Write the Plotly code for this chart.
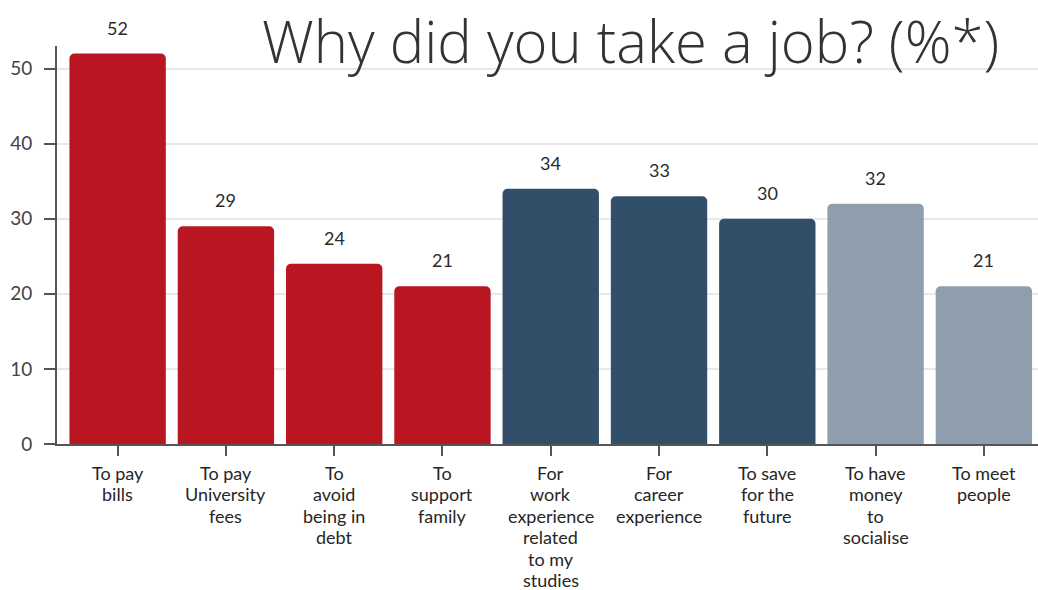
import plotly.graph_objects as go

# Survey answers: reasons students gave for taking a job
categories = [
    "To pay<br>bills",
    "To pay<br>University<br>fees",
    "To<br>avoid<br>being in<br>debt",
    "To<br>support<br>family",
    "For<br>work<br>experience<br>related<br>to my<br>studies",
    "For<br>career<br>experience",
    "To save<br>for the<br>future",
    "To have<br>money<br>to<br>socialise",
    "To meet<br>people",
]
values = [52, 29, 24, 21, 34, 33, 30, 32, 21]
bar_colors = [
    "#BA1622", "#BA1622", "#BA1622", "#BA1622",
    "#324F69", "#324F69", "#324F69",
    "#8E9EAD", "#8E9EAD",
]
y_ticks = [0, 10, 20, 30, 40, 50]

positions = list(range(len(categories)))

fig = go.Figure()
fig.add_trace(go.Bar(
    x=positions,
    y=values,
    marker=dict(color=bar_colors, line=dict(width=0), cornerradius=5),
    width=0.89,
    hoverinfo="skip",
))

# value labels floating above each bar
for xi, v in zip(positions, values):
    fig.add_annotation(
        x=xi, y=v, text=str(v), showarrow=False,
        yanchor="bottom", yshift=13,
        font=dict(family="Lato", size=18, color="#2b2b2b"),
    )

# category labels, one line at a time for tight line spacing
LINE_STEP = 21.4
for xi, label in zip(positions, categories):
    for i, line in enumerate(label.split("<br>")):
        fig.add_annotation(
            x=xi, y=0, text=line, showarrow=False,
            yanchor="middle", yshift=-(29 + LINE_STEP * i),
            borderpad=0,
            font=dict(family="Lato", size=18, color="#262626"),
        )

fig.add_annotation(
    xref="paper", yref="paper", x=0.962, y=1.0,
    xanchor="right", yanchor="middle", yshift=6,
    text="Why did you take a job? (%*)", showarrow=False,
    font=dict(family="Open Sans", size=58, color="#333333", weight=300),
)

fig.update_layout(
    width=1038, height=590,
    margin=dict(l=57, r=0, t=46, b=146),
    paper_bgcolor="white", plot_bgcolor="white",
    showlegend=False,
    xaxis=dict(
        range=[-0.56, 8.5],
        tickvals=positions,
        showticklabels=False,
        ticks="outside", ticklen=10, tickwidth=2, tickcolor="#555555",
        showline=True, linecolor="#555555", linewidth=2,
        showgrid=False, zeroline=False,
    ),
    yaxis=dict(
        range=[0, 53],
        tickvals=y_ticks,
        ticks="outside", ticklen=11, tickwidth=2, tickcolor="#555555",
        ticklabelstandoff=8,
        showline=True, linecolor="#555555", linewidth=2,
        showgrid=True, gridcolor="#e8e8e8", gridwidth=2,
        zeroline=False,
        tickfont=dict(family="Lato", size=19, color="#444444"),
    ),
)

fig.write_html("out.html")
